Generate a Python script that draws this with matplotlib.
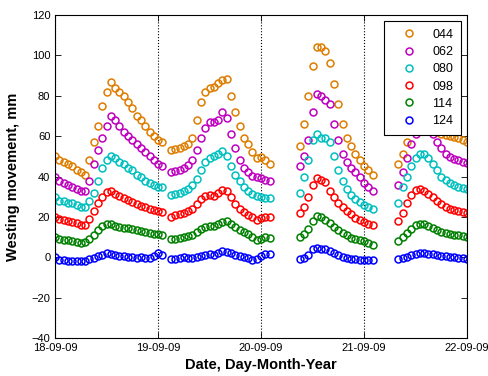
import pandas as pd
import matplotlib
matplotlib.use('Agg')
import matplotlib.pyplot as plt
import matplotlib.dates as mdates

plt.rcParams['font.family'] = ['Liberation Sans', 'DejaVu Sans']

START = '2009-09-18'
END = '2009-09-22'

# hours since 18-09-09 00:00 at which readings exist (four logging runs)
HOURS = (list(range(0, 26)) + list(range(27, 51)) +
         list(range(57, 75)) + list(range(80, 97)))

P044 = [50, 48, 47, 46, 45, 43, 42, 41, 48, 57, 65, 75, 82, 87, 84, 82, 80, 77, 74, 70, 68, 65, 62, 60, 58, 57,
        53, 53.5, 54, 55, 56, 59, 68, 77, 82, 84, 84.5, 86.5, 88, 88.5, 80, 72, 65, 59, 56, 52, 49, 49.5, 48, 46,
        55, 66, 80, 95, 104, 104, 102, 96, 86, 76, 66, 59, 55, 51, 48, 45, 43, 41,
        46, 51, 57, 64, 74, 82, 80, 74, 67, 62, 61, 60.5, 60, 59.5, 59, 58, 57]
P062 = [40, 38, 37, 36, 35, 34, 33, 33, 38, 46, 53, 59, 65, 70, 68, 65, 62, 60, 58, 56, 54, 52, 50, 48, 46, 45,
        42, 42.5, 43, 44, 45.5, 48, 53, 59, 64, 67, 67, 68, 72, 69, 61, 54, 48, 44, 42, 40.5, 40, 39.5, 38.5, 38,
        45, 50, 58, 72, 81, 80, 78, 76, 66, 58, 51, 47, 44, 42, 40, 37, 35, 33,
        36, 42, 49, 56, 61, 66, 67, 64, 61, 57, 54, 51, 49.5, 48.5, 48, 47, 46.5]
P080 = [30, 28, 28, 27, 27, 26, 25, 25, 28, 32, 38, 44, 48, 50, 49, 47, 46, 44, 43, 41, 40, 38, 37, 36, 35, 35,
        31, 31.5, 32, 33, 34, 36, 39, 43, 47, 49, 50, 51, 52.5, 50, 45, 41, 38, 35, 33, 31.5, 30.5, 30, 29.5, 29.5,
        32, 40, 48, 58, 61, 59, 59, 57, 50, 43, 38, 34, 31, 29, 27.5, 26, 25, 24,
        27, 35, 40, 45, 49, 51, 51, 49, 46, 43, 40, 38.5, 37, 36, 35, 34.5, 34]
P098 = [20, 19, 18.5, 18, 17.5, 17, 16, 16, 19, 23, 27, 30, 32.5, 33, 31.5, 30.5, 29.5, 28.5, 27.5, 26.5, 25.5, 25, 24, 23.5, 23, 22.5,
        20, 21, 21.5, 22, 23, 24, 26.5, 29, 30.5, 31, 30.5, 32, 33.5, 33, 30, 26.5, 24, 22.5, 21, 20, 18.5, 19.5, 20, 20,
        22, 25, 30, 36, 39.5, 38.5, 37.5, 33, 30, 27, 25, 23, 21.5, 19.5, 18.5, 17.5, 16.5, 16,
        18, 22, 27, 31, 33.5, 34, 33, 31.5, 30, 28, 26.5, 25, 24, 23.5, 23, 22.5, 22]
P114 = [10, 9, 8.5, 8.5, 8, 7.5, 7, 7.5, 9, 11, 13.5, 15.5, 16.5, 16.5, 15.5, 15, 14.5, 14.5, 14, 13.5, 13, 12.5, 12, 11.5, 11.5, 11,
        9, 9, 9.5, 10, 10.5, 11, 12.5, 14, 15, 15.5, 15.5, 16.5, 17.5, 18, 16.5, 15, 13.5, 12.5, 11.5, 10, 8.5, 9, 10, 9.5,
        10, 11.5, 14, 18, 20.5, 20, 18.5, 17, 15, 13.5, 12, 11, 9.5, 9, 8.5, 8, 7, 6,
        8, 10, 12, 14, 16, 16.5, 16.5, 15.5, 14.5, 13.5, 12.5, 12, 11.5, 11, 11, 10.5, 10]
P124 = [0, -1.5, -1.5, -2, -2, -2, -2, -2, -1, -0.5, 0.5, 1, 2, 1.5, 1, 0.5, 0.5, 0, 0, -0.5, 0, -0.5, -0.5, 0.5, 2, 1,
        -1, -1, -0.5, 0, -0.5, -0.5, 0, 0.5, 1, 1.5, 1, 2, 3, 2.5, 2, 1, 0.5, 0, -0.5, -1.5, -1, 0.5, 1.5, 1.5,
        -1, -0.5, 1, 4, 4.5, 4, 4, 3, 2, 1, 0, -0.5, -1, -1, -1.5, -1.5, -1.5, -1.5,
        -1, -0.5, 0, 1, 1.5, 2, 2, 1.5, 1.5, 1, 0.5, 0.5, 0, 0, -0.5, -0.5, -1]

POINTS = ['044', '062', '080', '098', '114', '124']
SERIES = [P044, P062, P080, P098, P114, P124]
COLORS = ['#de7d00', '#bf00bf', '#00bfbf', '#ff0000', '#008000', '#0000ff']


def main():
    times = pd.Timestamp(START) + pd.to_timedelta(HOURS, unit='h')

    fig = plt.figure(figsize=(4.88, 3.76), dpi=100)
    ax = fig.add_axes([0.113, 0.101, 0.844, 0.859])

    for name, vals, color in zip(POINTS, SERIES, COLORS):
        ax.plot(times, vals, 'o', mfc='none', mec=color, ms=5, mew=1.1,
                label=name)

    ax.set_xlim(pd.Timestamp(START), pd.Timestamp(END))
    ax.set_ylim(-40, 120)
    ax.set_yticks(range(-40, 121, 20))
    ax.xaxis.set_major_locator(mdates.DayLocator())
    ax.xaxis.set_major_formatter(mdates.DateFormatter('%d-%m-%y'))
    ax.xaxis.grid(True, linestyle=':', color='k', linewidth=0.8)
    ax.set_axisbelow(True)
    ax.tick_params(direction='in', top=True, right=True, length=4,
                   labelsize=8, width=0.6)
    for s in ax.spines.values():
        s.set_linewidth(0.8)

    ax.set_xlabel('Date, Day-Month-Year', fontsize=10.5, fontweight='bold',
                  labelpad=4)
    ax.set_ylabel('Westing movement, mm', fontsize=10.5, fontweight='bold',
                  labelpad=8)

    leg = ax.legend(loc='upper right', numpoints=1, fontsize=9,
                    handlelength=2.8, handletextpad=0.5, borderpad=0.6,
                    labelspacing=0.42, fancybox=False, framealpha=1,
                    borderaxespad=0.5)
    leg.get_frame().set_edgecolor('k')
    leg.get_frame().set_linewidth(0.8)

    fig.savefig('out.png', dpi=100)


if __name__ == '__main__':
    main()
